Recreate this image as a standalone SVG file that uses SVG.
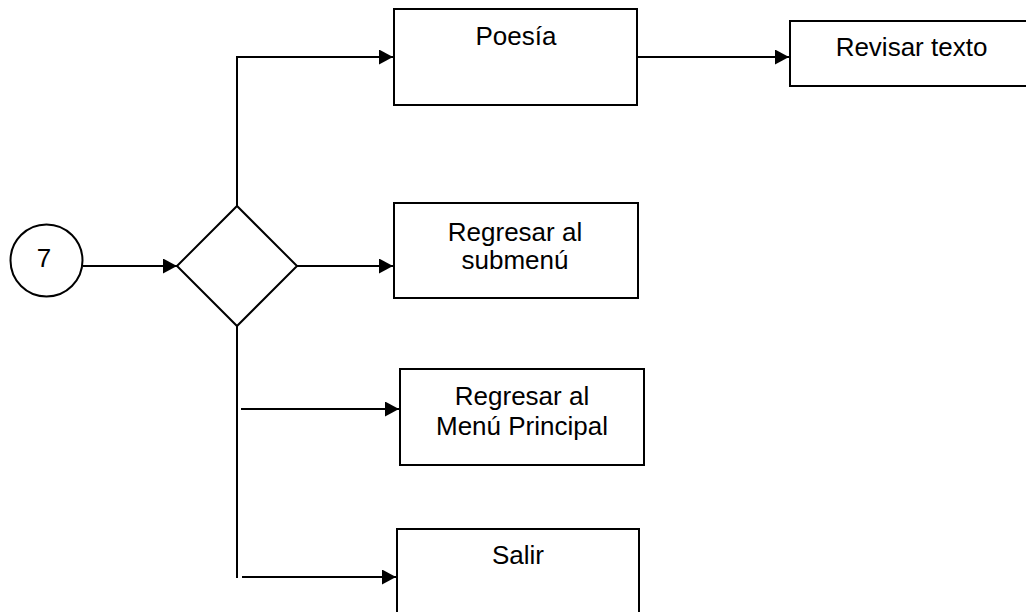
<svg xmlns="http://www.w3.org/2000/svg" width="1026" height="612" viewBox="0 0 1026 612">
  <style>
    .shape { fill: #ffffff; stroke: #000000; stroke-width: 2; }
    .label { font-family: "Liberation Sans", Arial, sans-serif; font-size: 26px; fill: #000000; text-anchor: middle; }
    .conn { fill: none; stroke: #000000; stroke-width: 2; }
    .arrow { marker-end: url(#head); }
  </style>
  <defs>
    <marker id="head" markerUnits="userSpaceOnUse" markerWidth="15" markerHeight="16" refX="14" refY="7.5" orient="auto">
      <path d="M0,0 L14,7.5 L0,15 z" fill="#000000"/>
    </marker>
  </defs>

  <rect width="1026" height="612" fill="#ffffff"/>

  <!-- connectors -->
  <g id="connectors">
    <path class="conn arrow" d="M83,266 H177"/>
    <path class="conn arrow" d="M237,206 V57 H393"/>
    <path class="conn arrow" d="M297,266 H393"/>
    <path class="conn" d="M237,326 V578"/>
    <path class="conn arrow" d="M241,409 H399"/>
    <path class="conn arrow" d="M242,577 H396"/>
    <path class="conn arrow" d="M637,57 H789"/>
  </g>

  <!-- start connector circle -->
  <g id="node-start">
    <circle class="shape" cx="46.5" cy="260.5" r="36"/>
    <text class="label" x="44" y="267">7</text>
  </g>

  <!-- decision -->
  <g id="node-decision">
    <polygon class="shape" points="177,266 237,206 297,266 237,326"/>
  </g>

  <g id="node-poesia">
    <rect class="shape" x="394" y="9" width="243" height="96"/>
    <text class="label" x="516" y="45">Poesía</text>
  </g>

  <g id="node-revisar">
    <rect class="shape" x="790" y="21" width="250" height="65"/>
    <text class="label" x="911.5" y="56">Revisar texto</text>
  </g>

  <g id="node-submenu">
    <rect class="shape" x="394" y="203" width="244" height="95"/>
    <text class="label" x="515" y="241">Regresar al</text>
    <text class="label" x="515" y="269">submenú</text>
  </g>

  <g id="node-menu-principal">
    <rect class="shape" x="400" y="369" width="244" height="96"/>
    <text class="label" x="522" y="405">Regresar al</text>
    <text class="label" x="522" y="435">Menú Principal</text>
  </g>

  <g id="node-salir">
    <rect class="shape" x="397" y="529" width="242" height="100"/>
    <text class="label" x="518" y="564">Salir</text>
  </g>
</svg>
